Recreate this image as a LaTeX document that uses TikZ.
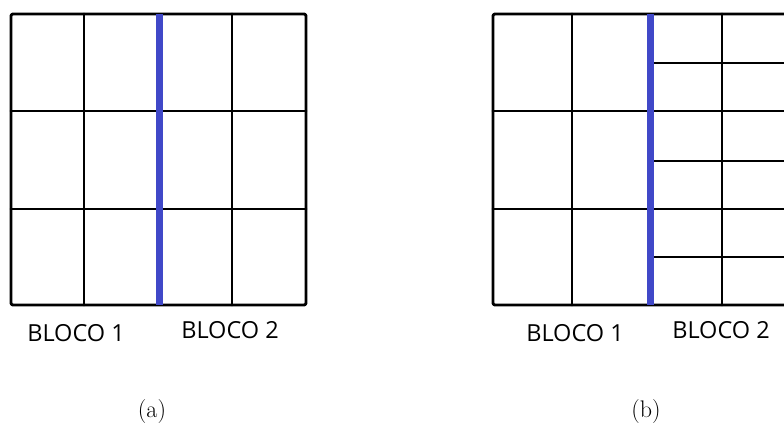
\documentclass[tikz,border=0pt]{standalone}
\usepackage{fontspec}
\newfontfamily\blocofont{Open Sans}
\definecolor{divblue}{RGB}{64,72,200}
\begin{document}
\begin{tikzpicture}[x=1pt,y=-1pt,
  gridline/.style={line width=2.9pt,black,line join=round,line cap=round},
  divline/.style={line width=7pt,divblue},
  blocolabel/.style={font=\blocofont\fontsize{23.5}{28}\selectfont,inner sep=0pt},
  caplabel/.style={font=\fontsize{24}{28}\selectfont,inner sep=0pt}]
\useasboundingbox (0,0) rectangle (784,427);
\begin{scope}
\clip (0,0) rectangle (784,427);
% panel (a)
\draw[gridline,rounded corners=2pt] (11,14) rectangle (306,305);
\draw[gridline] (84,14) -- (84,305);
\draw[gridline] (232,14) -- (232,305);
\draw[gridline] (11,111) -- (306,111);
\draw[gridline] (11,209) -- (306,209);
\draw[divline] (159,14) -- (159,305);
% panel (b)
\draw[gridline,rounded corners=2pt] (800,14) -- (493,14) -- (493,305) -- (800,305);
\draw[gridline] (572,14) -- (572,305);
\draw[gridline] (722,14) -- (722,305);
\draw[gridline] (493,111) -- (800,111);
\draw[gridline] (493,209) -- (800,209);
\draw[gridline] (650,63) -- (800,63);
\draw[gridline] (650,161) -- (800,161);
\draw[gridline] (650,257) -- (800,257);
\draw[divline] (650,14) -- (650,305);
\end{scope}
\node[blocolabel] (a1) at (76,333) {BLOCO 1};
\node[blocolabel] (a2) at (230,330) {BLOCO 2};
\node[blocolabel] (b1) at (575,333) {BLOCO 1};
\node[blocolabel] (b2) at (721,330) {BLOCO 2};
\node[caplabel] (capa) at (152,412) {(a)};
\node[caplabel] (capb) at (646,412) {(b)};
\end{tikzpicture}
\end{document}
